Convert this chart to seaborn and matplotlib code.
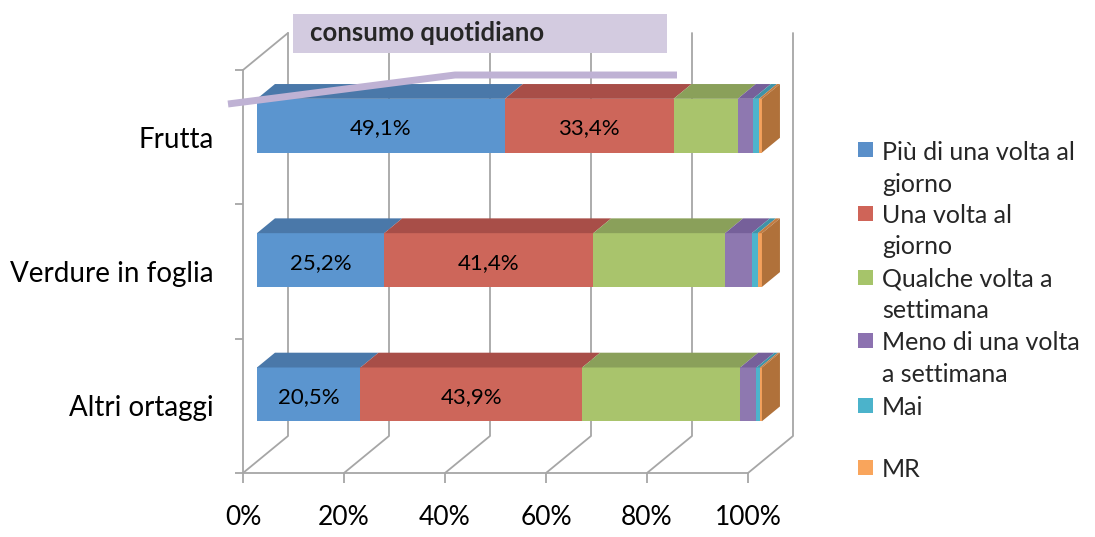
import numpy as np
import pandas as pd
import seaborn as sns
import matplotlib.pyplot as plt
from matplotlib.patches import Polygon, Rectangle
from matplotlib.lines import Line2D

# data (percent of respondents)
categories = ["Frutta", "Verdure in foglia", "Altri ortaggi"]
legend_labels = ["Più di una volta al\ngiorno", "Una volta al\ngiorno", "Qualche volta a\nsettimana",
                 "Meno di una volta\na settimana", "Mai", "MR"]
piu_volte = [49.1, 25.2, 20.5]
una_volta = [33.4, 41.4, 43.9]
qualche_volta = [12.7, 26.1, 31.3]
meno_volta = [3.0, 5.3, 3.2]
mai = [1.2, 1.2, 0.7]
mr = [0.6, 0.8, 0.4]
tick_values = [0, 20, 40, 60, 80, 100]
tick_labels = ["0%", "20%", "40%", "60%", "80%", "100%"]

front_colors = ["#5B95CF", "#CD665A", "#A9C46C", "#8E78B0", "#4DB4CC", "#F4A15C"]
top_colors = ["#4A78A9", "#A84E48", "#8AA05A", "#76609A", "#3F93A8", "#C27C42"]
side_color = "#B0713A"
legend_colors = ["#5A8FC9", "#CF6458", "#A6C46A", "#8C72B0", "#4BB3CB", "#F9A55C"]
grid_color = "#A6A6A6"

series = np.array([piu_volte, una_volta, qualche_volta, meno_volta, mai, mr])
cum = np.cumsum(series, axis=0)
df = pd.DataFrame(cum.T, columns=[f"c{i}" for i in range(6)])
df["categoria"] = categories

sns.set_theme(style="white")
plt.rcParams["font.family"] = ["Lato", "DejaVu Sans"]

W, H = 1095, 537
fig = plt.figure(figsize=(W / 100, H / 100), dpi=100)
ax = fig.add_axes([243 / W, (H - 473) / H, 505 / W, 403 / H])

bar_h = 0.40
# stacked bars: draw cumulative totals, widest first
for i in reversed(range(6)):
    sns.barplot(data=df, x=f"c{i}", y="categoria", order=categories, orient="h",
                color=front_colors[i], saturation=1, width=bar_h, linewidth=0, ax=ax)

ax.set_xlim(0, 100)
ax.set_ylim(2.5, -0.5)

# oblique depth offsets in data units
px_x, px_y = 505 / 100, 403 / 3
def off(z):
    return z * 45 / px_x, -z * 37 / px_y

zf, zb = 0.31, 0.71
fx, fy = off(zf)
kx, ky = off(zb)
gx, gy = off(1.0)

for p in ax.patches:
    p.set_x(p.get_x() + fx)
    p.set_y(p.get_y() + fy)
    p.set_clip_on(False)
    p.set_zorder(2)

# 3D faces of the bars
for j in range(len(categories)):
    y0 = j - bar_h / 2
    for i in range(6):
        l = cum[i - 1][j] if i > 0 else 0
        r = cum[i][j]
        ax.add_patch(Polygon([(l + fx, y0 + fy), (r + fx, y0 + fy), (r + kx, y0 + ky), (l + kx, y0 + ky)],
                             closed=True, facecolor=top_colors[i], edgecolor="none", clip_on=False, zorder=2))
    ax.add_patch(Polygon([(100 + fx, y0 + fy), (100 + kx, y0 + ky), (100 + kx, y0 + bar_h + ky),
                          (100 + fx, y0 + bar_h + fy)],
                         closed=True, facecolor=side_color, edgecolor="none", clip_on=False, zorder=2))
    for i in range(2):
        l = cum[i - 1][j] if i > 0 else 0
        ax.text((l + cum[i][j]) / 2 + fx, j + fy + 0.02, f"{series[i][j]:.1f}%".replace(".", ","),
                ha="center", va="center", fontsize=16, color="black", zorder=3)

# floor and back wall gridlines
for v in tick_values:
    ax.plot([v, v + gx, v + gx], [2.5, 2.5 + gy, -0.5 + gy], color=grid_color, lw=1.3,
            clip_on=False, zorder=0.5)
ax.plot([0, gx], [-0.5, -0.5 + gy], color=grid_color, lw=1.3, clip_on=False, zorder=0.5)

for s in ["top", "right"]:
    ax.spines[s].set_visible(False)
for s in ["left", "bottom"]:
    ax.spines[s].set_color(grid_color)
    ax.spines[s].set_linewidth(1.3)

ax.set_xticks(tick_values)
ax.set_xticklabels(tick_labels)
ax.set_yticks(range(len(categories)))
ax.set_yticklabels(categories)
ax.set_yticks([-0.5, 0.5, 1.5, 2.5], minor=True)
ax.tick_params(axis="x", bottom=True, direction="out", length=7, width=1.3, color=grid_color,
               labelsize=19, pad=16, labelcolor="black")
ax.tick_params(axis="y", which="major", left=True, length=0, labelsize=20, pad=21, labelcolor="black")
ax.tick_params(axis="y", which="minor", left=True, direction="out", length=5.5, width=1.3, color=grid_color)
ax.set_xlabel("")
ax.set_ylabel("")

# title box and highlight line
fig.patches.append(Rectangle((293 / W, 1 - 53 / H), (667 - 293) / W, 39 / H, transform=fig.transFigure,
                             facecolor="#D3CBE0", edgecolor="none", zorder=1))
fig.text(310 / W, 1 - 33 / H, "consumo quotidiano", fontsize=18.5, fontweight="bold", va="center", zorder=3)
fig.add_artist(Line2D([228 / W, 455 / W, 677 / W], [1 - 104 / H, 1 - 75 / H, 1 - 75 / H],
                      transform=fig.transFigure, color="#BFB2D4", lw=5, solid_capstyle="butt", zorder=4))

# legend
legend_y = [150, 213, 277, 340, 405, 467]
for k, lab in enumerate(legend_labels):
    yc = legend_y[k]
    fig.patches.append(Rectangle((858 / W, 1 - (yc + 7.5) / H), 15 / W, 15 / H, transform=fig.transFigure,
                                 facecolor=legend_colors[k], edgecolor="none"))
    for n, line in enumerate(lab.split("\n")):
        fig.text(882 / W, 1 - (yc + 10 + n * 31.5) / H, line, fontsize=18, va="baseline")

fig.savefig("out.png", dpi=100)
